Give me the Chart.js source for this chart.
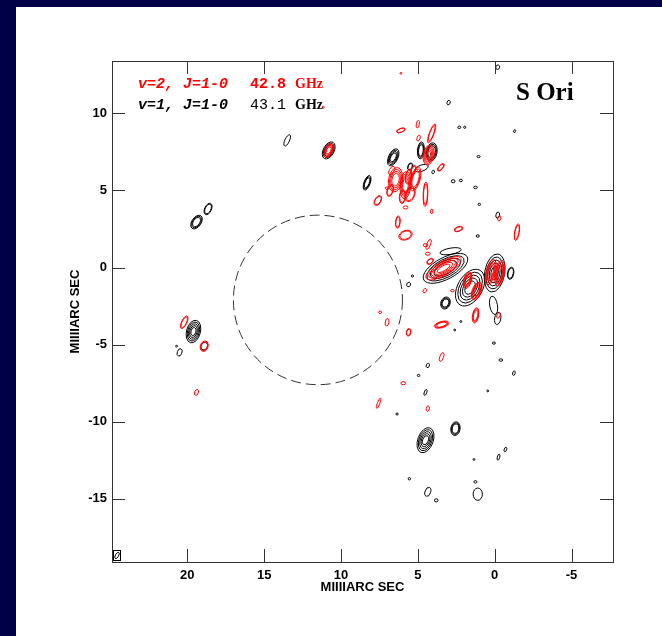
<!DOCTYPE html>
<html lang="en">
<head>
<meta charset="UTF-8">
<title>S Ori SiO masers</title>
<script src="https://cdn.jsdelivr.net/npm/chart.js"></script>
<style>
  html, body { margin: 0; padding: 0; }
  body { width: 662px; height: 636px; background: #000047; position: relative; overflow: hidden; }
  #sheet { position: absolute; left: 16px; top: 7px; right: 0; bottom: 0; background: #fff; }
  #wrap { position: absolute; left: 0; top: 0; width: 662px; height: 636px; }
</style>
</head>
<body>
<div id="sheet"></div>
<div id="wrap"><canvas id="myChart" width="662" height="636"></canvas></div>

<script>
// axes (milliarcsec), RA runs right to left
var xRange = [-7.7, 24.9];
var yRange = [-19.1, 13.4];
var xTicks = [20, 15, 10, 5, 0, -5];
var yTicks = [10, 5, 0, -5, -10, -15];

// maser spots: [x, y, semi-major, semi-minor, tilt (deg), contour levels]
var v2Spots = [
  [10.8, 7.6, 0.5, 0.25, -65, 4],
  [11.15, 10.4, 0.06, 0.06, 0, 1],
  [6.1, 12.6, 0.06, 0.06, 0, 1],
  [4.3, 7.3, 0.65, 0.35, -80, 5],
  [4.1, 8.7, 0.65, 0.15, -70, 2],
  [6.45, 5.7, 0.8, 0.45, -80, 4],
  [5.8, 5.35, 0.9, 0.35, -85, 4],
  [5.15, 5.75, 0.8, 0.3, -75, 3],
  [5.5, 4.75, 0.5, 0.3, -70, 2],
  [4.5, 4.75, 0.8, 0.15, -88, 2],
  [6.8, 5.0, 0.4, 0.2, -75, 2],
  [6.0, 4.6, 0.45, 0.2, -85, 2],
  [5.3, 6.3, 0.35, 0.15, -70, 2],
  [6.7, 6.3, 0.3, 0.15, -60, 1],
  [5.6, 5.9, 0.5, 0.2, -80, 2],
  [6.1, 8.9, 0.3, 0.13, -20, 2],
  [5.0, 9.3, 0.25, 0.1, -80, 1],
  [4.95, 8.4, 0.2, 0.1, -70, 1],
  [3.5, 6.5, 0.3, 0.13, -50, 2],
  [4.1, 3.65, 0.15, 0.08, -80, 1],
  [5.8, 3.9, 0.15, 0.1, 0, 1],
  [6.3, 2.95, 0.4, 0.15, -85, 2],
  [5.8, 2.1, 0.45, 0.3, -20, 2],
  [7.6, 4.35, 0.35, 0.2, -60, 2],
  [7.0, 5.15, 0.12, 0.08, 0, 1],
  [2.35, 2.5, 0.3, 0.15, -20, 2],
  [-1.45, 2.3, 0.55, 0.15, -80, 2],
  [4.3, 1.5, 0.35, 0.12, -70, 1],
  [-0.3, 3.2, 0.18, 0.1, -80, 1],
  [4.5, 1.45, 0.15, 0.1, 0, 1],
  [4.2, 0.4, 0.25, 0.15, -40, 2],
  [3.33, -0.05, 1.3, 0.45, -30, 5],
  [1.76, -0.82, 0.55, 0.25, -75, 4],
  [1.17, -1.53, 0.6, 0.3, -70, 4],
  [1.24, -3.1, 0.5, 0.2, -80, 3],
  [0.26, -0.3, 0.85, 0.3, -75, 4],
  [-0.33, -0.37, 0.85, 0.3, -80, 4],
  [3.45, -3.7, 0.5, 0.2, -15, 3],
  [4.55, -1.5, 0.15, 0.1, -60, 1],
  [2.75, -1.5, 0.12, 0.08, 0, 1],
  [-0.25, -3.1, 0.2, 0.1, -70, 1],
  [4.35, 0.9, 0.15, 0.1, 0, 1],
  [7.45, -2.9, 0.1, 0.08, 0, 1],
  [7.0, -3.55, 0.25, 0.12, -80, 1],
  [5.6, -4.2, 0.25, 0.15, -80, 2],
  [3.45, -5.8, 0.3, 0.12, -70, 1],
  [5.95, -7.5, 0.15, 0.1, 0, 1],
  [7.55, -8.8, 0.35, 0.08, -70, 1],
  [4.35, -9.15, 0.18, 0.1, -80, 1],
  [20.2, -3.55, 0.45, 0.17, -65, 2],
  [18.9, -5.1, 0.35, 0.25, -70, 2],
  [19.4, -8.1, 0.2, 0.12, -70, 1]
];

var v1Spots = [
  [13.5, 8.25, 0.4, 0.15, -65, 1],
  [10.8, 7.6, 0.6, 0.35, -62, 3],
  [-0.2, 13.0, 0.15, 0.12, -70, 1],
  [3.0, 10.7, 0.15, 0.1, -70, 1],
  [2.3, 9.1, 0.1, 0.08, 0, 1],
  [1.95, 9.1, 0.07, 0.07, 0, 1],
  [-1.3, 8.85, 0.1, 0.06, -70, 1],
  [6.6, 7.15, 0.6, 0.3, -65, 4],
  [4.8, 7.6, 0.55, 0.22, -85, 3],
  [4.1, 7.5, 0.6, 0.35, -80, 3],
  [5.5, 6.55, 0.25, 0.15, -70, 2],
  [4.75, 6.45, 0.45, 0.2, -20, 1],
  [8.3, 5.5, 0.5, 0.2, -70, 3],
  [1.05, 7.2, 0.1, 0.07, 0, 1],
  [4.0, 6.2, 0.12, 0.08, -70, 1],
  [2.7, 5.6, 0.12, 0.1, 0, 1],
  [2.2, 5.65, 0.1, 0.08, 0, 1],
  [1.25, 5.2, 0.12, 0.08, 0, 1],
  [1.0, 4.1, 0.08, 0.07, 0, 1],
  [-0.2, 3.4, 0.2, 0.12, -80, 1],
  [1.1, 2.05, 0.1, 0.08, 0, 1],
  [3.2, -0.05, 1.6, 0.7, -28, 4],
  [1.6, -1.3, 1.3, 0.8, -60, 5],
  [0.0, -0.35, 1.25, 0.65, -80, 5],
  [-1.04, -0.37, 0.4, 0.2, -80, 2],
  [0.07, -2.45, 0.6, 0.25, -100, 1],
  [-0.2, -3.3, 0.4, 0.2, -80, 1],
  [3.2, -2.3, 0.4, 0.3, -70, 3],
  [2.87, 1.06, 0.7, 0.2, -10, 1],
  [5.6, -1.1, 0.15, 0.12, -70, 1],
  [5.35, -0.55, 0.07, 0.07, 0, 1],
  [0.05, -4.9, 0.1, 0.07, 0, 1],
  [-0.4, -6.0, 0.12, 0.08, 0, 1],
  [-1.25, -6.85, 0.15, 0.08, -75, 1],
  [2.6, -4.05, 0.06, 0.06, 0, 1],
  [2.2, -3.5, 0.06, 0.06, 0, 1],
  [4.35, -6.35, 0.15, 0.1, -70, 1],
  [4.95, -7.0, 0.08, 0.07, 0, 1],
  [4.5, -8.1, 0.2, 0.08, -70, 1],
  [0.45, -8.0, 0.06, 0.06, 0, 1],
  [6.35, -9.5, 0.07, 0.07, 0, 1],
  [4.5, -11.2, 0.85, 0.5, -70, 5],
  [2.55, -10.45, 0.45, 0.3, -80, 3],
  [-0.7, -11.8, 0.15, 0.08, -70, 1],
  [-0.25, -12.3, 0.2, 0.08, -75, 1],
  [1.35, -12.45, 0.06, 0.06, 0, 1],
  [5.55, -13.7, 0.08, 0.08, 0, 1],
  [4.35, -14.55, 0.3, 0.18, -70, 1],
  [3.8, -15.1, 0.12, 0.1, 0, 1],
  [1.25, -13.9, 0.1, 0.08, 0, 1],
  [1.1, -14.7, 0.4, 0.3, -90, 1],
  [19.4, 2.95, 0.5, 0.3, -55, 3],
  [18.65, 3.8, 0.4, 0.22, -65, 2],
  [19.6, -4.15, 0.75, 0.45, -75, 5],
  [18.9, -5.1, 0.25, 0.2, -70, 1],
  [20.5, -5.5, 0.25, 0.15, -70, 1],
  [20.7, -5.1, 0.06, 0.06, 0, 1]
];

// stellar disk: [x, y, radius]
var starDisk = [11.5, -2.1, 5.5];

var lineLabels = [
  ['v=2, J=1-0', '42.8', 'GHz', '#ff0000'],
  ['v=1, J=1-0', '43.1', 'GHz', '#000000']
];
var sourceName = 'S Ori';
var axisTitle = 'MIIIIARC SEC';

var tickFont = { family: '"Liberation Sans", Arial, sans-serif', size: 13, weight: 'bold' };

function drawSpots(ctx, chart, spots, color) {
  var xs = chart.scales.x, ys = chart.scales.y;
  var kx = Math.abs(xs.getPixelForValue(1) - xs.getPixelForValue(0));
  var ky = Math.abs(ys.getPixelForValue(1) - ys.getPixelForValue(0));
  ctx.strokeStyle = color;
  ctx.lineWidth = 1;
  spots.forEach(function (s) {
    var px = xs.getPixelForValue(s[0]);
    var py = ys.getPixelForValue(s[1]);
    for (var k = 0; k < s[5]; k++) {
      var f = 1 - 0.16 * k;
      ctx.beginPath();
      ctx.ellipse(px, py, Math.max(s[2] * kx * f, 0.8), Math.max(s[3] * ky * f, 0.8),
        s[4] * Math.PI / 180, 0, Math.PI * 2);
      ctx.stroke();
    }
  });
}

var mapPlugin = {
  id: 'mapLayer',
  afterDatasetsDraw: function (chart) {
    var ctx = chart.ctx, a = chart.chartArea;
    var xs = chart.scales.x, ys = chart.scales.y;

    ctx.save();
    ctx.beginPath();
    ctx.rect(a.left, a.top, a.right - a.left, a.bottom - a.top);
    ctx.clip();

    // stellar disk
    var cx = xs.getPixelForValue(starDisk[0]);
    var cy = ys.getPixelForValue(starDisk[1]);
    var rx = Math.abs(xs.getPixelForValue(starDisk[0] + starDisk[2]) - cx);
    var ry = Math.abs(ys.getPixelForValue(starDisk[1] + starDisk[2]) - cy);
    ctx.strokeStyle = '#333';
    ctx.lineWidth = 1;
    ctx.setLineDash([10, 5]);
    ctx.beginPath();
    ctx.ellipse(cx, cy, rx, ry, 0, 0, Math.PI * 2);
    ctx.stroke();
    ctx.setLineDash([]);

    drawSpots(ctx, chart, v1Spots, '#000000');
    drawSpots(ctx, chart, v2Spots, '#ff0000');
    ctx.restore();

    // frame and inward ticks on all four sides
    ctx.save();
    ctx.strokeStyle = '#333';
    ctx.lineWidth = 1;
    ctx.strokeRect(a.left + 0.5, a.top + 0.5, a.right - a.left, a.bottom - a.top);
    ctx.beginPath();
    xTicks.forEach(function (v) {
      var p = Math.round(xs.getPixelForValue(v)) + 0.5;
      ctx.moveTo(p, a.bottom); ctx.lineTo(p, a.bottom - 13);
      ctx.moveTo(p, a.top); ctx.lineTo(p, a.top + 13);
    });
    yTicks.forEach(function (v) {
      var p = Math.round(ys.getPixelForValue(v)) + 0.5;
      ctx.moveTo(a.left, p); ctx.lineTo(a.left + 13, p);
      ctx.moveTo(a.right, p); ctx.lineTo(a.right - 13, p);
    });
    ctx.stroke();

    // beam box in the lower-left corner
    ctx.strokeStyle = '#000';
    ctx.strokeRect(a.left + 1.5, a.bottom - 11.5, 7, 10);
    ctx.beginPath();
    ctx.ellipse(a.left + 5, a.bottom - 6.5, 3.5, 1.6, -60 * Math.PI / 180, 0, Math.PI * 2);
    ctx.stroke();

    // line identifications
    ctx.textBaseline = 'middle';
    lineLabels.forEach(function (l, i) {
      var y = a.top + 23 + i * 21;
      ctx.fillStyle = l[3];
      ctx.font = 'italic bold 15px "Liberation Mono", monospace';
      ctx.fillText(l[0], a.left + 26, y);
      ctx.font = (i === 0 ? 'bold ' : '') + '15px "Liberation Mono", monospace';
      ctx.fillText(l[1], a.left + 138, y);
      ctx.font = 'bold 14px "Liberation Serif", serif';
      ctx.fillText(l[2], a.left + 183, y);
    });

    ctx.fillStyle = '#000';
    ctx.font = 'bold 25px "Liberation Serif", serif';
    ctx.fillText(sourceName, a.left + 404, a.top + 33);

    // axis titles
    ctx.font = 'bold 13px "Liberation Sans", Arial, sans-serif';
    ctx.textAlign = 'center';
    ctx.fillText(axisTitle, (a.left + a.right) / 2, a.bottom + 25);
    ctx.translate(75, (a.top + a.bottom) / 2);
    ctx.rotate(-Math.PI / 2);
    ctx.fillText(axisTitle, 0, 0);
    ctx.restore();
  }
};

var ctx = document.getElementById('myChart').getContext('2d');
var myChart = new Chart(ctx, {
  type: 'scatter',
  data: {
    datasets: [
      { label: 'v=1, J=1-0 43.1 GHz', data: v1Spots.map(function (s) { return { x: s[0], y: s[1] }; }), pointRadius: 0 },
      { label: 'v=2, J=1-0 42.8 GHz', data: v2Spots.map(function (s) { return { x: s[0], y: s[1] }; }), pointRadius: 0 }
    ]
  },
  options: {
    responsive: false,
    animation: false,
    devicePixelRatio: 1,
    layout: { padding: { top: 61, right: 49, left: 0, bottom: 0 } },
    plugins: { legend: { display: false }, tooltip: { enabled: false } },
    scales: {
      x: {
        type: 'linear',
        reverse: true,
        min: xRange[0],
        max: xRange[1],
        afterBuildTicks: function (s) { s.ticks = xTicks.map(function (v) { return { value: v }; }); },
        afterFit: function (s) { s.height = 74; },
        grid: { display: false, drawTicks: false },
        border: { display: false },
        ticks: { font: tickFont, color: '#000', padding: 6, maxRotation: 0 }
      },
      y: {
        type: 'linear',
        min: yRange[0],
        max: yRange[1],
        afterBuildTicks: function (s) { s.ticks = yTicks.map(function (v) { return { value: v }; }); },
        afterFit: function (s) { s.width = 112; },
        grid: { display: false, drawTicks: false },
        border: { display: false },
        ticks: { font: tickFont, color: '#000', padding: 5 }
      }
    }
  },
  plugins: [mapPlugin]
});
</script>
</body>
</html>
